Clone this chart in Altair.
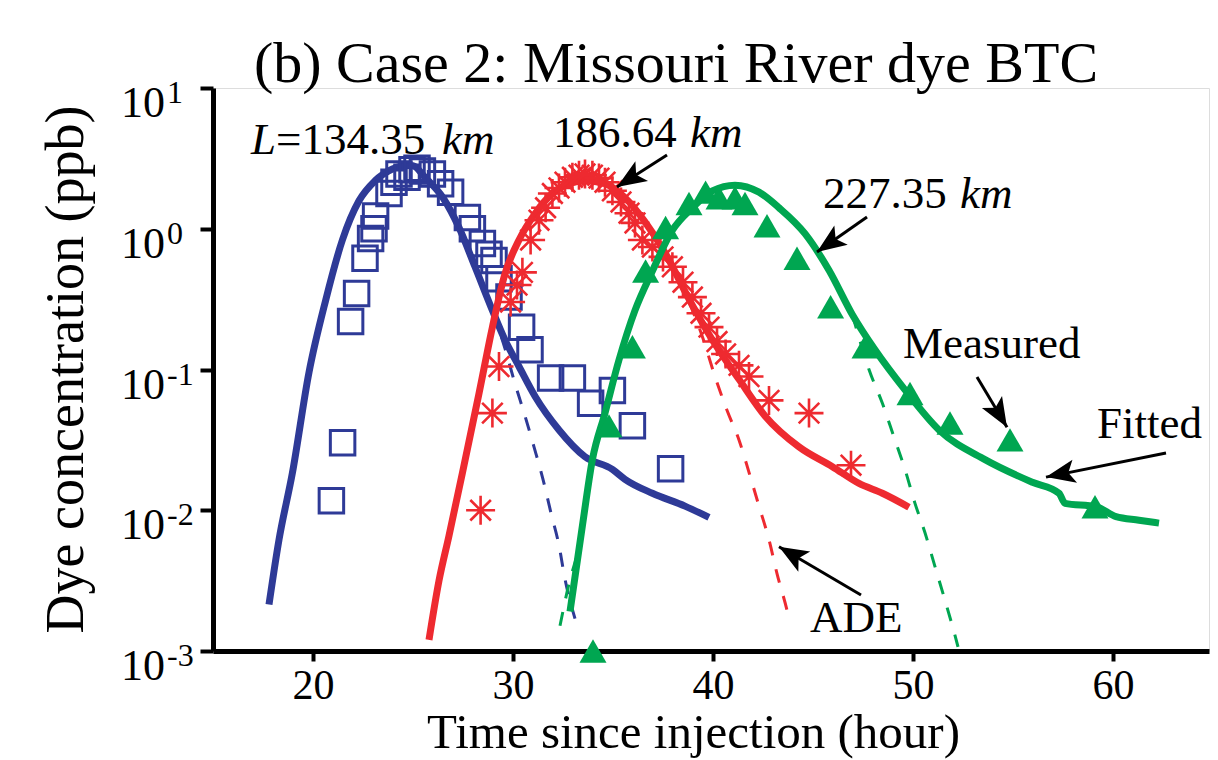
import math
import altair as alt
import pandas as pd

# ---------------- data ----------------
# time since injection (hour) and dye concentration (ppb)
blue_meas_t = [20.92, 21.48, 21.88, 22.18, 22.6, 22.88, 23.05, 23.13, 23.8, 24.05, 24.3, 24.7,
               24.95, 25.2, 25.47, 25.97, 26.38, 26.88, 27.72, 27.97, 28.47, 28.8, 29.05, 29.3,
               29.8, 30.43, 30.85, 31.88, 32.97, 33.88, 34.97, 35.97, 37.88]
blue_meas_c = [0.0117, 0.0302, 0.219, 0.347, 0.617, 0.851, 1.0, 1.23, 1.78, 2.14, 2.45, 2.32,
               2.63, 2.69, 2.57, 2.45, 2.09, 1.82, 1.20, 1.0, 0.785, 0.66, 0.596, 0.442,
               0.327, 0.20, 0.138, 0.087, 0.087, 0.0575, 0.0708, 0.0398, 0.0197]

blue_fit_t = [17.8, 18.3, 18.97, 19.8, 20.63, 21.47, 22.3, 23.1, 23.97, 24.6, 25.0, 25.6, 26.5,
              27.3, 28.1, 28.97, 29.6, 30.3, 31.1, 32.3, 33.6, 34.97, 35.6, 36.97, 38.6, 39.8]
blue_fit_c = [0.00214, 0.00617, 0.0184, 0.0955, 0.309, 0.832, 1.58, 2.19, 2.66, 2.82, 2.80, 2.32,
              1.66, 1.02, 0.537, 0.263, 0.162, 0.105, 0.0646, 0.0372, 0.024, 0.0195, 0.0166,
              0.0132, 0.0107, 0.0089]

blue_ade_t = [28.97, 29.6, 30.1, 30.6, 31.05, 31.5, 31.9, 32.3, 32.6, 33.1]
blue_ade_c = [0.263, 0.141, 0.0794, 0.0468, 0.0282, 0.0166, 0.00955, 0.00562, 0.00324, 0.0017]

red_meas_t = [28.38, 28.97, 29.3, 29.88, 30.2, 30.47, 30.88, 31.3, 31.63, 31.97, 32.3, 32.6,
              32.97, 33.3, 33.6, 33.97, 34.3, 34.6, 34.97, 35.4, 35.8, 36.1, 36.47, 36.97,
              37.5, 37.97, 38.5, 38.97, 39.4, 39.8, 40.2, 40.63, 41.3, 41.8, 42.8, 44.8, 46.9]
red_meas_c = [0.010, 0.049, 0.105, 0.302, 0.398, 0.49, 0.832, 1.15, 1.41, 1.78, 1.95, 2.14,
              2.32, 2.40, 2.45, 2.40, 2.29, 2.14, 1.86, 1.55, 1.29, 1.10, 0.832, 0.741,
              0.631, 0.537, 0.417, 0.327, 0.251, 0.20, 0.158, 0.129, 0.107, 0.0891, 0.0603,
              0.049, 0.0209]

red_fit_t = [25.8, 26.3, 26.8, 27.47, 28.3, 28.97, 29.6, 30.3, 31.1, 31.97, 32.8, 33.6, 34.6,
             35.6, 36.6, 37.6, 38.8, 39.97, 41.3, 42.6, 44.3, 45.97, 47.3, 48.47, 49.8]
red_fit_c = [0.0012, 0.00316, 0.0066, 0.0184, 0.0676, 0.20, 0.479, 0.832, 1.28, 1.78, 2.09,
             2.19, 2.09, 1.66, 1.12, 0.676, 0.316, 0.162, 0.0851, 0.0468, 0.0282, 0.0204,
             0.0155, 0.0132, 0.0105]

red_ade_t = [37.6, 38.8, 39.5, 40.1, 40.7, 41.3, 41.8, 42.3, 42.8, 43.2, 43.7, 43.85]
red_ade_c = [0.676, 0.302, 0.166, 0.0891, 0.0513, 0.0316, 0.0186, 0.0107, 0.00617, 0.00355,
             0.00195, 0.00158]

green_meas_t = [34.0, 34.8, 35.97, 36.63, 37.63, 38.8, 39.63, 40.3, 41.1, 41.6, 42.7, 44.2,
                45.88, 47.6, 49.85, 51.85, 54.85, 59.1]
green_meas_c = [0.001, 0.0398, 0.145, 0.501, 1.02, 1.51, 1.82, 1.66, 1.66, 1.51, 1.05, 0.617,
                0.279, 0.145, 0.0676, 0.0417, 0.0316, 0.0106]

green_fit_t = [32.85, 33.47, 33.97, 34.6, 35.3, 36.1, 36.97, 37.97, 38.97, 39.97, 41.1, 42.3,
               43.3, 44.6, 45.8, 46.97, 48.1, 49.6, 51.3, 53.6, 55.97, 57.3, 57.6, 59.15,
               60.15, 61.3, 62.3]
green_fit_c = [0.00191, 0.00776, 0.0229, 0.049, 0.117, 0.263, 0.501, 0.977, 1.41, 1.86, 2.04,
               1.82, 1.41, 0.923, 0.507, 0.245, 0.138, 0.0716, 0.0372, 0.0229, 0.0158, 0.0132,
               0.0112, 0.0106, 0.0090, 0.0085, 0.0081]

green_ade_lo_t = [32.35, 32.8, 33.3]
green_ade_lo_c = [0.00151, 0.00300, 0.0052]
green_ade_hi_t = [46.97, 47.4, 47.8, 48.47, 49.05, 49.6, 50.1, 50.6, 51.1, 51.6, 52.1, 52.25]
green_ade_hi_c = [0.245, 0.151, 0.10, 0.0575, 0.0331, 0.0195, 0.0112, 0.00692, 0.00398,
                  0.00229, 0.00129, 0.00107]

# axis ticks
x_ticks = [20, 30, 40, 50, 60]
y_ticks = [0.001, 0.01, 0.1, 1, 10]
y_tick_exp = ["-3", "-2", "-1", "0", "1"]

# title and annotations (hour, ppb)
title_text = ["(b) Case 2: Missouri River dye BTC"]
title_t = [38.15]
title_c = [11.03]
ann_num_text = ["=134.35", "186.64", "227.35"]
ann_num_t = [18.15, 32.0, 45.5]
ann_num_c = [3.40, 3.83, 1.40]
ann_ital_text = ["L", "km", "km", "km"]
ann_ital_t = [16.9, 26.45, 38.85, 52.35]
ann_ital_c = [3.40, 3.40, 3.83, 1.40]
ann_word_text = ["Measured", "Fitted", "ADE"]
ann_word_t = [49.5, 59.2, 44.85]
ann_word_c = [0.121, 0.0326, 0.00137]

# arrows: tail -> head (hour, ppb)
arrow_t1 = [37.7, 47.7, 53.2, 62.65, 47.4]
arrow_c1 = [3.34, 1.21, 0.0885, 0.0255, 0.0025]
arrow_t2 = [35.2, 45.2, 54.7, 56.65, 43.3]
arrow_c2 = [1.98, 0.684, 0.0389, 0.0172, 0.0055]

# ---------------- styling ----------------
FONT = "Liberation Serif"
BLUE = "#2e3a97"
RED = "#ee2a30"
GREEN = "#00a651"
X_DOMAIN = [15, 64.8]
W, H = 996, 563
PX_HOUR = W / (X_DOMAIN[1] - X_DOMAIN[0])
PX_DECADE = H / 4.0

STAR = "M-1,0L1,0M0,-1L0,1M-0.71,-0.71L0.71,0.71M-0.71,0.71L0.71,-0.71"
ARROW = "M0,0L-0.8,2L0,1.55L0.8,2Z"

xs = alt.Scale(domain=X_DOMAIN, nice=False, zero=False)
ys = alt.Scale(type="log", domain=[0.001, 10], nice=False)

xaxis = alt.Axis(values=x_ticks, format="d", title="Time since injection (hour)",
                 labelFont=FONT, labelFontSize=42, labelColor="black", labelPadding=4,
                 labelOverlap=False, labelFlush=False,
                 tickSize=10, tickWidth=4, tickColor="black",
                 domainColor="black", domainWidth=5, grid=False,
                 titleFont=FONT, titleFontSize=49, titleFontWeight="normal",
                 titleColor="black", titleX=480, titleY=96, titleBaseline="alphabetic",
                 titleAlign="center")
yaxis = alt.Axis(values=y_ticks, labels=False, title="Dye concentration (ppb)",
                 tickSize=13, tickWidth=4, tickColor="black",
                 domainColor="black", domainWidth=5, grid=False,
                 titleFont=FONT, titleFontSize=54, titleFontWeight="normal",
                 titleColor="black", titleAngle=270, titleX=-131, titleY=281,
                 titleBaseline="alphabetic", titleAlign="center")

X = alt.X("t:Q", scale=xs, axis=xaxis)
Y = alt.Y("c:Q", scale=ys, axis=yaxis)


def df(t, c, **extra):
    d = pd.DataFrame({"t": t, "c": c})
    for k, v in extra.items():
        d[k] = v
    return d


def fit_line(t, c, color):
    return alt.Chart(df(t, c)).mark_line(color=color, strokeWidth=7, interpolate="monotone",
                                          strokeCap="butt").encode(x=X, y=Y)


def ade_line(t, c, color):
    return alt.Chart(df(t, c)).mark_line(color=color, strokeWidth=3, interpolate="monotone",
                                          strokeDash=[14, 14]).encode(x=X, y=Y)


squares = alt.Chart(df(blue_meas_t, blue_meas_c)).mark_point(
    shape="square", filled=False, size=600, strokeWidth=3, color=BLUE, opacity=1
).encode(x=X, y=Y)

stars = alt.Chart(df(red_meas_t, red_meas_c)).mark_point(
    shape=STAR, filled=False, size=840, strokeWidth=2.6, color=RED, opacity=1
).encode(x=X, y=Y)

triangles = alt.Chart(df(green_meas_t, green_meas_c)).mark_point(
    shape="triangle-up", filled=True, size=729, color=GREEN, opacity=1, strokeWidth=0
).encode(x=X, y=Y)

# arrows
angles = []
for a, b, c, d in zip(arrow_t1, arrow_c1, arrow_t2, arrow_c2):
    dxp = (c - a) * PX_HOUR
    dyp = -(math.log10(d) - math.log10(b)) * PX_DECADE
    angles.append(math.degrees(math.atan2(dxp, -dyp)) % 360)

arrow_df = pd.DataFrame({"t": arrow_t1, "c": arrow_c1, "t2": arrow_t2, "c2": arrow_c2})
arrow_lines = alt.Chart(arrow_df).mark_rule(color="black", strokeWidth=3).encode(
    x=X, y=Y, x2="t2:Q", y2="c2:Q")
heads = alt.Chart(df(arrow_t2, arrow_c2, ang=angles)).mark_point(
    shape=ARROW, filled=True, size=860, color="black", opacity=1, strokeWidth=0
).encode(x=X, y=Y, angle=alt.Angle("ang:Q", scale=None))


# annotations
def ann(t, c, text, size, style="normal", align="left"):
    return alt.Chart(df(t, c, label=text)).mark_text(
        font=FONT, fontSize=size, fontStyle=style, align=align, baseline="alphabetic",
        color="black"
    ).encode(x=X, y=Y, text="label:N")


title = ann(title_t, title_c, title_text, 58, align="center")
ann_num = ann(ann_num_t, ann_num_c, ann_num_text, 45)
ann_ital = ann(ann_ital_t, ann_ital_c, ann_ital_text, 45, "italic")
ann_word = ann(ann_word_t, ann_word_c, ann_word_text, 45)

# y tick labels 10^n
ylab_df = pd.DataFrame({"c": y_ticks, "exp": y_tick_exp})
ybase = alt.Chart(ylab_df).mark_text(
    text="10", font=FONT, fontSize=44, align="right", baseline="middle", dy=16, color="black"
).encode(x=alt.value(-48), y=Y)
yexp = alt.Chart(ylab_df).mark_text(
    font=FONT, fontSize=32, align="left", baseline="middle", dy=5, color="black"
).encode(x=alt.value(-46), y=Y, text="exp:N")

chart = alt.layer(
    fit_line(blue_fit_t, blue_fit_c, BLUE),
    ade_line(blue_ade_t, blue_ade_c, BLUE),
    squares,
    fit_line(red_fit_t, red_fit_c, RED),
    ade_line(red_ade_t, red_ade_c, RED),
    stars,
    fit_line(green_fit_t, green_fit_c, GREEN),
    ade_line(green_ade_lo_t, green_ade_lo_c, GREEN),
    ade_line(green_ade_hi_t, green_ade_hi_c, GREEN),
    triangles,
    arrow_lines, heads,
    title, ann_num, ann_ital, ann_word,
    ybase, yexp,
).properties(
    width=W, height=H,
    autosize=alt.AutoSizeParams(type="none"),
    padding={"left": 205, "top": 80, "right": 1, "bottom": 109},
).configure_view(strokeWidth=0, fill="white").configure(background="white")

chart.save("out.html", embed_options={"renderer": "svg", "actions": False})
